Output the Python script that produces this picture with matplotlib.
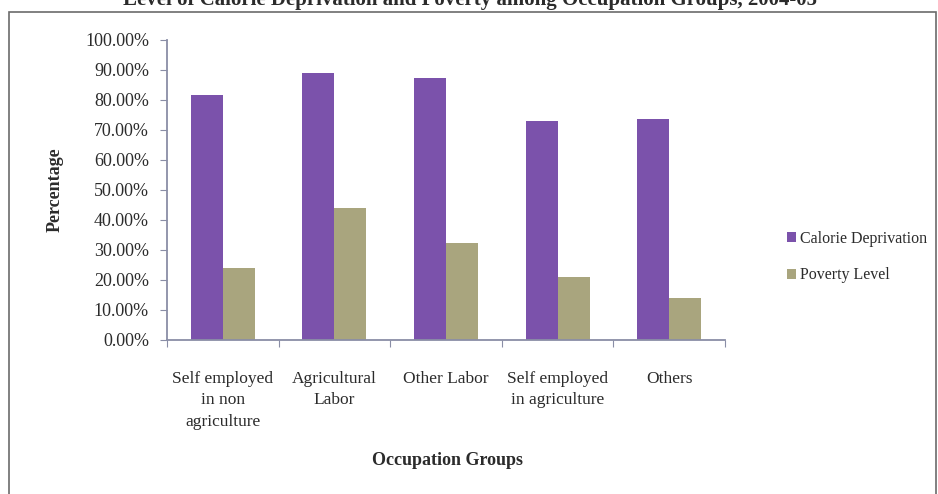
import matplotlib
matplotlib.use("Agg")
import matplotlib.pyplot as plt
import numpy as np
from matplotlib.patches import Rectangle, Patch
from matplotlib.ticker import FuncFormatter, FixedLocator

plt.rcParams['font.family'] = ['Liberation Serif', 'DejaVu Serif']

categories = ["Self employed\nin non\nagriculture", "Agricultural\nLabor", "Other Labor",
              "Self employed\nin agriculture", "Others"]
calorie_deprivation = [81.7, 88.9, 87.2, 73.0, 73.6]
poverty_level = [23.9, 44.1, 32.4, 21.1, 13.9]
series_names = ["Calorie Deprivation", "Poverty Level"]
y_ticks = [0, 10, 20, 30, 40, 50, 60, 70, 80, 90, 100]

purple = "#7B52AB"
tan = "#A9A57E"
axis_col = "#8A8EA6"
text_col = "#2b2b2b"

W, H = 938, 494
fig = plt.figure(figsize=(W / 100, H / 100), dpi=100)
fig.patch.set_facecolor("white")

ax = fig.add_axes([167 / W, 1 - 340 / H, (725 - 167) / W, 300 / H])
x = np.arange(len(categories))
bw = 0.287
ax.bar(x - bw / 2, calorie_deprivation, width=bw, color=purple, label=series_names[0])
ax.bar(x + bw / 2, poverty_level, width=bw, color=tan, label=series_names[1])

ax.set_xlim(-0.5, len(categories) - 0.5)
ax.set_ylim(0, 100)
ax.set_yticks(y_ticks)
ax.yaxis.set_major_formatter(FuncFormatter(lambda v, p: f"{v:.2f}%"))
ax.xaxis.set_major_locator(FixedLocator(np.arange(-0.5, len(categories), 1.0)))
ax.set_xticklabels([])
for i, lab in enumerate(categories):
    ax.text(i, -10.3, lab, ha="center", va="top", fontsize=12.5, color=text_col,
            linespacing=1.45, transform=ax.transData)

for s in ["top", "right"]:
    ax.spines[s].set_visible(False)
for s in ["left", "bottom"]:
    ax.spines[s].set_color(axis_col)
    ax.spines[s].set_linewidth(1.3)
ax.tick_params(axis="y", direction="out", length=5, color=axis_col, labelsize=13,
               labelcolor=text_col, pad=8)
ax.tick_params(axis="x", direction="out", length=5, color=axis_col)

fig.text(55 / W, 1 - 190 / H, "Percentage", rotation=90, ha="center", va="center",
         fontsize=13, fontweight="bold", color=text_col)
fig.text(447 / W, 1 - 460 / H, "Occupation Groups", ha="center", va="center",
         fontsize=13, fontweight="bold", color=text_col)
fig.text(470 / W, 1 - 5 / H, "Level of Calorie Deprivation and Poverty among Occupation Groups, 2004-05",
         ha="center", va="baseline", fontsize=15, fontweight="bold", color=text_col)

handles = [Patch(facecolor=purple), Patch(facecolor=tan)]
fig.legend(handles, series_names, loc="center left", bbox_to_anchor=(773 / W, 1 - 257 / H),
           frameon=False, fontsize=11.5, handlelength=0.55, handleheight=0.55,
           handletextpad=0.25, labelspacing=1.3, labelcolor=text_col)

fig.patches.append(Rectangle((9 / W, -0.01), (936 - 9) / W, 1.01 - 12 / H + 0.0,
                             transform=fig.transFigure, fill=False,
                             edgecolor="#6b6b6b", linewidth=1.2))

fig.savefig("out.png", dpi=100)
